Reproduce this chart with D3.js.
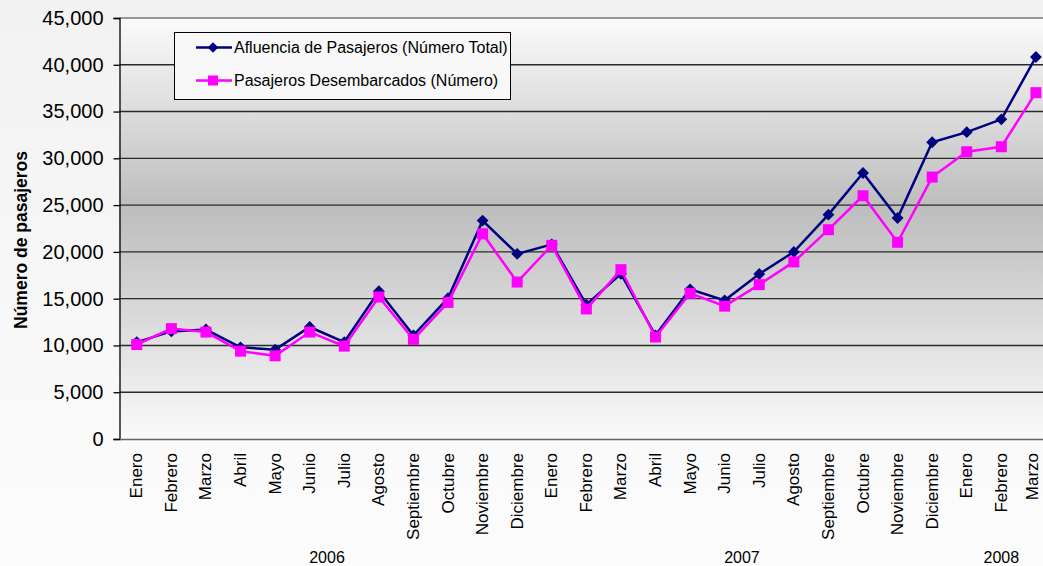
<!DOCTYPE html>
<html>
<head>
<meta charset="utf-8">
<script src="https://cdn.jsdelivr.net/npm/d3@7"></script>
<style>
  html, body { margin: 0; padding: 0; background: #fff; }
  svg { display: block; font-family: Arial, "Liberation Sans", sans-serif; }
</style>
</head>
<body>
<svg width="1043" height="566"></svg>
<script>
var months = ['Enero', 'Febrero', 'Marzo', 'Abril', 'Mayo', 'Junio', 'Julio', 'Agosto',
  'Septiembre', 'Octubre', 'Noviembre', 'Diciembre',
  'Enero', 'Febrero', 'Marzo', 'Abril', 'Mayo', 'Junio', 'Julio', 'Agosto',
  'Septiembre', 'Octubre', 'Noviembre', 'Diciembre',
  'Enero', 'Febrero', 'Marzo'];
var years = ['2006', '2007', '2008'];
var yearFirst = [0, 12, 24];
var yearLast = [11, 23, 26];
var afluencia = [10360, 11500, 11700, 9800, 9550, 11970, 10360, 15790, 11080, 15050, 23350, 19790,
  20800, 14360, 17650, 11080, 16000, 14820, 17640, 20000, 23980, 28430, 23620, 31720,
  32800, 34170, 40830];
var desembarcados = [10100, 11800, 11430, 9390, 8890, 11430, 9930, 15180, 10650, 14600, 21940, 16780,
  20700, 13900, 18100, 10900, 15570, 14200, 16500, 18930, 22370, 26000, 21030, 28000,
  30700, 31240, 37020];
var yTicks = [0, 5000, 10000, 15000, 20000, 25000, 30000, 35000, 40000, 45000];
var seriesNames = ['Afluencia de Pasajeros (Número Total)', 'Pasajeros Desembarcados (Número)'];

var svg = d3.select('svg');
var plot = { left: 119.5, right: 1053.2, top: 18, bottom: 439 };

var x = d3.scaleBand()
  .domain(d3.range(months.length))
  .range([plot.left, plot.right]);
var y = d3.scaleLinear()
  .domain([0, 45000])
  .range([plot.bottom, plot.top]);
var cx = function(i) { return x(i) + x.bandwidth() / 2; };

// backgrounds
var defs = svg.append('defs');
var pageGrad = defs.append('linearGradient').attr('id', 'pageGrad')
  .attr('x1', 0).attr('y1', 0).attr('x2', 0).attr('y2', 1);
pageGrad.append('stop').attr('offset', '0%').attr('stop-color', '#f2f2f2');
pageGrad.append('stop').attr('offset', '100%').attr('stop-color', '#fcfcfc');
var plotGrad = defs.append('linearGradient').attr('id', 'plotGrad')
  .attr('x1', 0).attr('y1', 0).attr('x2', 0).attr('y2', 1);
plotGrad.append('stop').attr('offset', '0%').attr('stop-color', '#fbfbfb');
plotGrad.append('stop').attr('offset', '45%').attr('stop-color', '#bdbdbd');
plotGrad.append('stop').attr('offset', '100%').attr('stop-color', '#fafafa');

svg.append('rect').attr('width', 1043).attr('height', 566).attr('fill', 'url(#pageGrad)');
svg.append('rect')
  .attr('x', plot.left).attr('y', plot.top)
  .attr('width', plot.right - plot.left).attr('height', plot.bottom - plot.top)
  .attr('fill', 'url(#plotGrad)');

// gridlines
svg.append('g').selectAll('line')
  .data(yTicks.filter(function(d) { return d > 0; }))
  .enter().append('line')
    .attr('x1', plot.left).attr('x2', plot.right)
    .attr('y1', function(d) { return y(d); })
    .attr('y2', function(d) { return y(d); })
    .attr('stroke', function(d) { return d === 45000 ? '#777' : '#2a2a2a'; })
    .attr('stroke-width', 1.4);

// y axis
var yAxis = svg.append('g')
  .attr('transform', 'translate(' + plot.left + ',0)')
  .call(d3.axisLeft(y).tickValues(yTicks).tickSize(6).tickPadding(10).tickFormat(d3.format(',')));
yAxis.select('.domain').attr('stroke', '#000').attr('stroke-width', 1.3);
yAxis.selectAll('.tick line').attr('stroke', '#000').attr('stroke-width', 1.3);
yAxis.selectAll('text').attr('font-size', '20px').attr('fill', '#000')
  .attr('font-family', 'Arial, "Liberation Sans", sans-serif');

svg.append('text')
  .attr('transform', 'translate(27,240) rotate(-90)')
  .attr('text-anchor', 'middle')
  .attr('font-size', '17.5px')
  .attr('font-weight', 'bold')
  .text('Número de pasajeros');

// x axis
var xAxis = svg.append('g')
  .attr('transform', 'translate(0,' + plot.bottom + ')')
  .call(d3.axisBottom(x).tickSize(0).tickFormat(function(i) { return months[i]; }));
xAxis.select('.domain').attr('stroke', '#666').attr('stroke-width', 1.5);
xAxis.selectAll('text')
  .attr('font-size', '17px').attr('fill', '#000')
  .attr('font-family', 'Arial, "Liberation Sans", sans-serif')
  .attr('text-anchor', 'end')
  .attr('dy', null)
  .attr('y', 0)
  .attr('transform', function(i) {
    // last label sits at the window edge, nudge it in a little
    var dx = i === months.length - 1 ? 2.5 : 5.5;
    return 'translate(' + dx + ',14) rotate(-90)';
  });

svg.append('g').selectAll('text')
  .data(years)
  .enter().append('text')
    .attr('x', function(d, i) { return (cx(yearFirst[i]) + cx(yearLast[i])) / 2; })
    .attr('y', 563)
    .attr('text-anchor', 'middle')
    .attr('font-size', '16px')
    .text(function(d) { return d; });

// series
var line = d3.line()
  .x(function(d, i) { return cx(i); })
  .y(function(d) { return y(d); });

svg.append('path').datum(afluencia)
  .attr('d', line).attr('fill', 'none')
  .attr('stroke', '#000080').attr('stroke-width', 2.5);
svg.append('g').selectAll('path')
  .data(afluencia)
  .enter().append('path')
    .attr('d', d3.symbol().type(d3.symbolSquare).size(70))
    .attr('transform', function(d, i) { return 'translate(' + cx(i) + ',' + y(d) + ') rotate(45)'; })
    .attr('fill', '#000080');

svg.append('path').datum(desembarcados)
  .attr('d', line).attr('fill', 'none')
  .attr('stroke', '#ff00ff').attr('stroke-width', 2.5);
svg.append('g').selectAll('rect')
  .data(desembarcados)
  .enter().append('rect')
    .attr('x', function(d, i) { return cx(i) - 5.5; })
    .attr('y', function(d) { return y(d) - 5.5; })
    .attr('width', 11).attr('height', 11)
    .attr('fill', '#ff00ff');

// legend
var legend = svg.append('g');
legend.append('rect')
  .attr('x', 174.5).attr('y', 32.5).attr('width', 336).attr('height', 67)
  .attr('fill', '#f8f8f8').attr('stroke', '#000').attr('stroke-width', 1);
var items = legend.selectAll('g.item')
  .data(seriesNames)
  .enter().append('g')
    .attr('class', 'item')
    .attr('transform', function(d, i) { return 'translate(0,' + (47.5 + i * 33) + ')'; });
items.append('line')
  .attr('x1', 196).attr('x2', 232)
  .attr('stroke', function(d, i) { return i === 0 ? '#000080' : '#ff00ff'; })
  .attr('stroke-width', 2.5);
items.each(function(d, i) {
  var g = d3.select(this);
  if (i === 0) {
    g.append('path')
      .attr('d', d3.symbol().type(d3.symbolSquare).size(55))
      .attr('transform', 'translate(213,0) rotate(45)')
      .attr('fill', '#000080');
  } else {
    g.append('rect').attr('x', 208).attr('y', -5).attr('width', 10).attr('height', 10)
      .attr('fill', '#ff00ff');
  }
});
items.append('text')
  .attr('x', 234).attr('y', 5.5)
  .attr('font-size', '16px')
  .text(function(d) { return d; });
</script>
</body>
</html>
